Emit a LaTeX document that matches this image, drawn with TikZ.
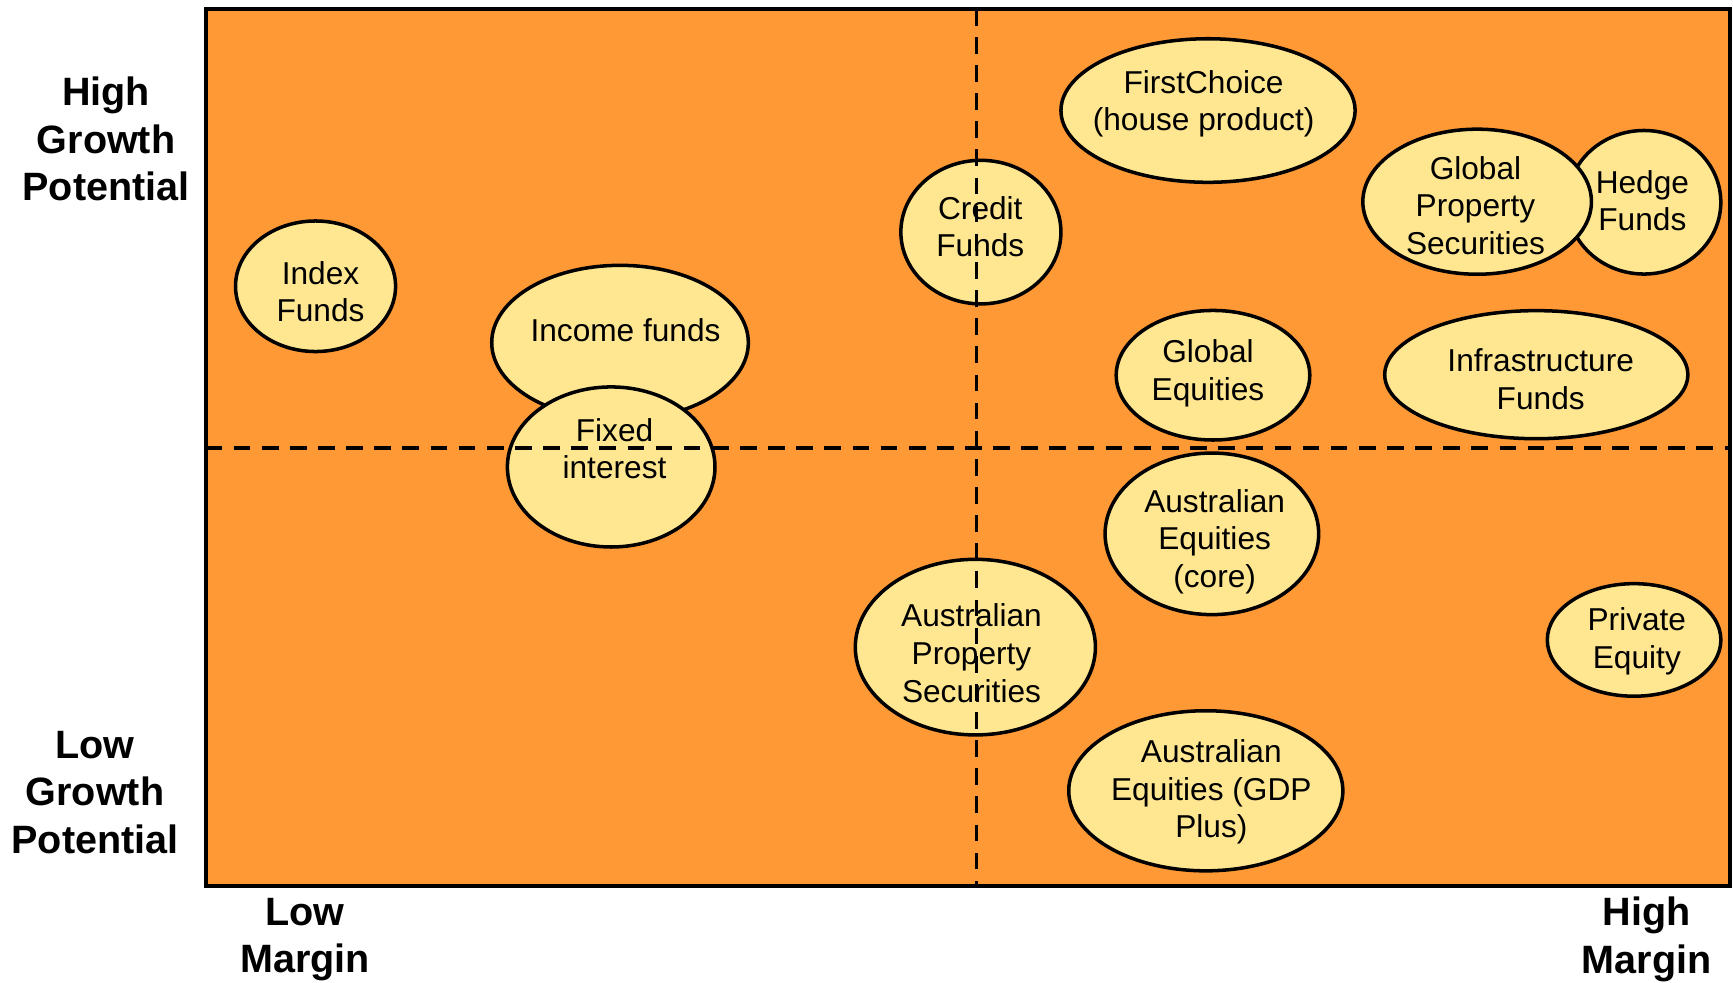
\documentclass[tikz,border=0pt]{standalone}
\usepackage{fontspec}
\setmainfont{Liberation Sans}
\usetikzlibrary{shapes.geometric}
\definecolor{quadorange}{RGB}{255,153,53}
\definecolor{fundyellow}{RGB}{255,231,145}
\tikzset{
  fund/.style={ellipse, draw=black, line width=2pt, fill=fundyellow, inner sep=0pt},
  fundtext/.style={align=center, inner sep=0pt, font=\fontsize{18}{21.4}\selectfont},
  axislabel/.style={align=center, inner sep=0pt, font=\fontsize{22.5}{27}\selectfont\bfseries},
  vdivider/.style={line width=2.2pt, dash pattern=on 9.5pt off 6.5pt},
  hdivider/.style={line width=2.2pt, dash pattern=on 9.5pt off 6.5pt}
}
\begin{document}
\begin{tikzpicture}[x=0.0221cm, y=-0.0221cm]
\useasboundingbox (0,0) rectangle (1568,889);
\fill [quadorange] (186,8) rectangle (1565,802);
\draw (96,126) node [axislabel] (highgrowth) {High\\Growth\\Potential};
\draw (86,717) node [axislabel] (lowgrowth) {Low\\Growth\\Potential};
\draw (276,850) node [axislabel] (lowmargin) {Low\\Margin};
\draw (1490,850) node [axislabel] (highmargin) {High\\Margin};
\node [fund, minimum width=3.20cm, minimum height=2.61cm] (index) at (285.5,259) {};
\node [fundtext] (indexlbl) at (290,264) {Index\\Funds};
\node [fund, minimum width=5.13cm, minimum height=3.09cm] (income) at (561,310) {};
\node [fundtext] (incomelbl) at (566,299) {Income funds};
\node [fund, minimum width=4.15cm, minimum height=3.20cm] (fixed) at (553,422.5) {};
\node [fundtext] (fixedlbl) at (556,406) {Fixed\\interest};
\node [fund, minimum width=3.20cm, minimum height=2.87cm] (credit) at (887.5,210) {};
\node [fundtext] (creditlbl) at (887,205) {Credit\\Funds};
\node [fund, minimum width=5.88cm, minimum height=2.87cm] (firstchoice) at (1093,100) {};
\node [fundtext] (firstchoicelbl) at (1089,94) {FirstChoice\\(house product)};
\node [fund, minimum width=3.07cm, minimum height=2.87cm] (hedge) at (1487.5,183) {};
\node [fundtext] (hedgelbl) at (1486,181.5) {Hedge\\Funds};
\node [fund, minimum width=4.57cm, minimum height=2.90cm] (globprop) at (1336.5,182.5) {};
\node [fundtext] (globproplbl) at (1335,186) {Global\\Property\\Securities};
\node [fund, minimum width=3.87cm, minimum height=2.59cm] (globeq) at (1097.5,339.5) {};
\node [fundtext] (globeqlbl) at (1093,338) {Global\\Equities};
\node [fund, minimum width=6.06cm, minimum height=2.56cm] (infra) at (1390,339) {};
\node [fundtext] (infralbl) at (1394,343) {Infrastructure\\Funds};
\node [fund, minimum width=4.27cm, minimum height=3.23cm] (auseqcore) at (1096.5,483) {};
\node [fundtext] (auseqcorelbl) at (1099,490) {Australian\\Equities\\(core)};
\node [fund, minimum width=4.80cm, minimum height=3.51cm] (ausprop) at (882.5,585.5) {};
\node [fundtext] (ausproplbl) at (879,591) {Australian\\Property\\Securities};
\node [fund, minimum width=3.47cm, minimum height=2.25cm] (private) at (1478.5,579) {};
\node [fundtext] (privatelbl) at (1481,580.5) {Private\\Equity};
\node [fund, minimum width=5.48cm, minimum height=3.20cm] (auseqgdp) at (1091,715.5) {};
\node [fundtext] (auseqgdplbl) at (1096,716.5) {Australian\\Equities (GDP\\Plus)};
\coordinate (midtop) at (883.5,8);
\coordinate (midbottom) at (883.5,802);
\coordinate (midleft) at (186,405);
\coordinate (midright) at (1565,405);
\draw [vdivider] (midtop) -- (midbottom);
\draw [hdivider] (midleft) -- (midright);
\draw [black, line width=2.3pt] (186,8) rectangle (1565,802);
\end{tikzpicture}
\end{document}
